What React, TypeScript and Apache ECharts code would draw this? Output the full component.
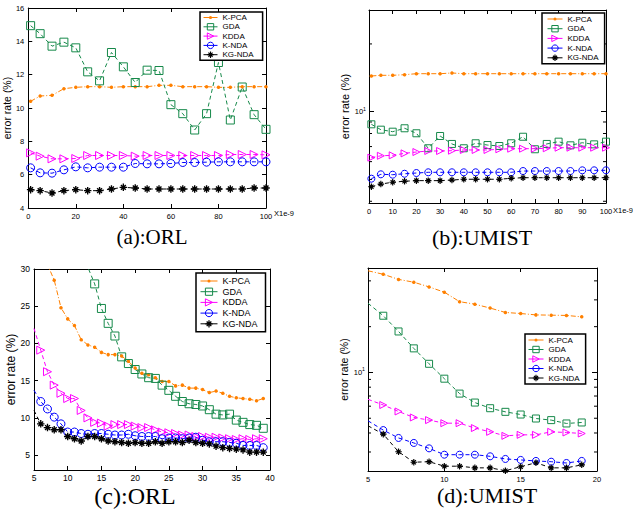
import React, { useEffect, useRef } from 'react';
import * as echarts from 'echarts';

const METHODS = ['K-PCA', 'GDA', 'KDDA', 'K-NDA', 'KG-NDA'];

// (a) ORL, error rate vs regularisation (x1e-9)
const xA = [1, 5, 10, 15, 20, 25, 30, 35, 40, 45, 50, 55, 60, 65, 70, 75, 80, 85, 90, 95, 100];
const aKPCA = [10.40, 10.72, 10.76, 11.16, 11.24, 11.28, 11.28, 11.24, 11.28, 11.28, 11.28, 11.36, 11.36, 11.28, 11.28, 11.28, 11.24, 11.24, 11.28, 11.28, 11.28];
const aGDA = [14.94, 14.46, 13.71, 13.95, 13.61, 12.17, 11.63, 13.33, 12.47, 11.53, 12.27, 12.25, 10.20, 9.66, 8.68, 9.66, 12.73, 9.28, 11.26, 9.60, 8.72];
const aKDDA = [7.31, 7.11, 6.95, 6.95, 6.97, 7.15, 7.15, 7.15, 7.15, 7.11, 7.15, 7.15, 7.15, 7.15, 7.15, 7.15, 7.15, 7.21, 7.21, 7.21, 7.19];
const aKNDA = [6.41, 6.11, 6.09, 6.29, 6.47, 6.41, 6.45, 6.45, 6.45, 6.67, 6.65, 6.65, 6.67, 6.73, 6.73, 6.75, 6.77, 6.77, 6.77, 6.77, 6.77];
const aKGNDA = [5.10, 5.04, 4.90, 5.04, 5.10, 5.04, 5.04, 5.14, 5.24, 5.20, 5.14, 5.14, 5.14, 5.14, 5.14, 5.14, 5.14, 5.14, 5.14, 5.20, 5.20];

// (b) UMIST, error rate vs regularisation (x1e-9), log scale
const xB = [1, 5, 10, 15, 20, 25, 30, 35, 40, 45, 50, 55, 60, 65, 70, 75, 80, 85, 90, 95, 100];
const bKPCA = [14.41, 14.51, 14.51, 14.60, 14.75, 14.75, 14.75, 14.86, 14.75, 14.75, 14.75, 14.75, 14.75, 14.75, 14.75, 14.75, 14.75, 14.75, 14.75, 14.75, 14.75];
const bGDA = [8.79, 8.32, 8.15, 8.44, 8.02, 6.88, 7.80, 7.19, 6.88, 7.24, 7.11, 7.04, 7.24, 7.74, 6.81, 7.19, 7.36, 7.09, 7.28, 7.16, 7.36];
const bKDDA = [6.25, 6.37, 6.40, 6.53, 6.62, 6.69, 6.69, 6.71, 6.76, 6.76, 6.76, 6.81, 6.85, 6.85, 6.85, 6.88, 6.92, 6.92, 6.92, 6.92, 6.92];
const bKNDA = [5.04, 5.27, 5.25, 5.30, 5.34, 5.38, 5.38, 5.38, 5.38, 5.38, 5.38, 5.38, 5.38, 5.45, 5.45, 5.45, 5.45, 5.45, 5.49, 5.49, 5.49];
const bKGNDA = [4.64, 4.77, 4.86, 4.91, 4.94, 4.94, 4.94, 4.97, 5.01, 5.01, 5.01, 5.01, 5.06, 5.09, 5.09, 5.09, 5.09, 5.09, 5.09, 5.09, 5.09];

// (c) ORL, error rate vs dimension
const xC = [5, 6, 7, 8, 9, 10, 11, 12, 13, 14, 15, 16, 17, 18, 19, 20, 21, 22, 23, 24, 25, 26, 27, 28, 29, 30, 31, 32, 33, 34, 35, 36, 37, 38, 39];
const cKPCA = [36, 33, 30.6, 28.5, 24.8, 23.3, 22.4, 20.5, 19.8, 19.5, 18.8, 18.5, 18.5, 18.3, 17.6, 16.7, 16.0, 15.8, 15.4, 14.9, 14.9, 14.3, 14.4, 14.0, 14.0, 13.8, 13.4, 13.6, 13.3, 12.9, 12.7, 12.6, 12.5, 12.3, 12.6];
const cGDA = [62, 56, 51, 47, 43, 39, 36, 33, 30.2, 28.0, 24.7, 22.7, 21.0, 18.2, 17.3, 16.5, 15.9, 15.4, 15.3, 14.4, 13.7, 12.9, 12.2, 11.9, 11.8, 11.6, 11.1, 10.5, 10.4, 10.5, 9.7, 9.4, 9.1, 9.0, 8.6];
const cKDDA = [22.0, 19.1, 16.2, 14.4, 13.3, 12.6, 12.6, 11.0, 10.0, 9.4, 9.3, 8.9, 9.1, 9.1, 9.1, 8.9, 8.7, 8.7, 8.4, 8.1, 8.0, 7.9, 7.7, 7.7, 7.5, 7.5, 7.4, 7.4, 7.3, 7.2, 7.1, 7.2, 7.1, 7.2, 7.2];
const cKNDA = [13.7, 12.2, 11.2, 10.1, 9.2, 8.1, 8.1, 7.9, 7.8, 7.9, 7.9, 7.8, 7.7, 7.7, 7.8, 7.6, 7.5, 7.5, 7.5, 7.2, 7.3, 7.3, 7.2, 7.3, 7.4, 7.0, 6.8, 6.8, 6.8, 6.7, 6.6, 6.3, 6.3, 6.3, 6.0];
const cKGNDA = [11.0, 9.2, 8.7, 8.4, 8.4, 7.5, 7.2, 6.9, 7.5, 7.5, 7.2, 6.9, 6.8, 6.7, 6.6, 6.7, 6.6, 6.6, 6.8, 6.6, 6.8, 6.8, 6.7, 7.0, 6.7, 6.6, 6.5, 6.2, 6.0, 5.9, 5.8, 5.7, 5.4, 5.4, 5.4];

// (d) UMIST, error rate vs dimension, log scale
const xD = [5, 6, 7, 8, 9, 10, 11, 12, 13, 14, 15, 16, 17, 18, 19];
const dKPCA = [46.6, 44.2, 40.9, 39.2, 36.5, 33.7, 29.2, 28.1, 26.5, 24.8, 24.4, 23.9, 23.8, 23.7, 23.2];
const dGDA = [28.5, 23.6, 18.6, 14.4, 11.4, 9.1, 7.26, 6.34, 5.82, 5.51, 5.29, 4.98, 4.86, 4.62, 4.69];
const dKDDA = [6.66, 6.11, 5.54, 5.06, 4.86, 4.64, 4.64, 4.31, 4.07, 3.83, 3.89, 3.89, 4.07, 4.03, 3.97];
const dKNDA = [4.81, 4.18, 3.71, 3.44, 3.17, 2.88, 2.88, 2.88, 2.81, 2.70, 2.66, 2.62, 2.59, 2.54, 2.62];
const dKGNDA = [4.46, 3.93, 3.01, 2.57, 2.59, 2.42, 2.42, 2.36, 2.36, 2.26, 2.40, 2.55, 2.36, 2.36, 2.47];

// minor tick values of the log axes
const bMinorTicks = [4, 5, 6, 7, 8, 9, 20];
const dMinorTicks = [3, 4, 5, 6, 7, 8, 9, 20, 30, 40];

const TITLES = ['(a):ORL', '(b):UMIST', '(c):ORL', '(d):UMIST'];
const Y_NAME = 'error rate (%)';
const X_UNIT = 'X1e-9';

const SANS = '"Liberation Sans", Arial, Helvetica, sans-serif';
const SERIF = '"Liberation Serif", "Times New Roman", serif';

const TRI = 'path://M0,0L10,5L0,10Z';
const STAR = 'path://M4.1,0L5.9,0L5.9,10L4.1,10Z M0,4.1L10,4.1L10,5.9L0,5.9Z M1.1,2.4L2.4,1.1L8.9,7.6L7.6,8.9Z M7.6,1.1L8.9,2.4L2.4,8.9L1.1,7.6Z';

// legend icon for K-PCA: a line through a small dot, drawn in a w x h box
function dotLineIcon(w: number, h: number) {
  const c = h / 2;
  const r = 1.6;
  return `path://M0,0L0,0 M${w},${h}L${w},${h} M0,${c - 0.5}L${w},${c - 0.5}L${w},${c + 0.5}L0,${c + 0.5}Z ` +
    `M${w / 2 - r},${c}A${r},${r},0,1,1,${w / 2 + r},${c}A${r},${r},0,1,1,${w / 2 - r},${c}Z`;
}

const STYLE: Record<string, any> = {
  'K-PCA': { color: '#ff8000', dash: [5, 2, 1, 2], symbol: 'circle', filled: true },
  GDA: { color: '#16894a', dash: [4, 3], symbol: 'rect', filled: false },
  KDDA: { color: '#ff00ff', dash: [4, 3], symbol: TRI, filled: false },
  'K-NDA': { color: '#0000ff', dash: [4, 3], symbol: 'circle', filled: false },
  'KG-NDA': { color: '#000000', dash: [4, 3], symbol: STAR, filled: true },
};

function itemStyleOf(name: string) {
  const st = STYLE[name];
  return st.filled
    ? { color: st.color, borderWidth: 0 }
    : { color: 'rgba(255,255,255,0)', borderColor: st.color, borderWidth: 1 };
}

function lineSeries(name: string, xs: number[], ys: number[], g: number, size: number, hideFirst: boolean) {
  const st = STYLE[name];
  const symSize = name === 'K-PCA' ? 3.5 : name === 'KG-NDA' ? size - 0.5 : size;
  return {
    type: 'line',
    name,
    xAxisIndex: 2 * g,
    yAxisIndex: 2 * g,
    data: xs.map((x, i) => (hideFirst && i === 0 ? { value: [x, ys[i]], symbol: 'none' } : [x, ys[i]])),
    symbol: st.symbol,
    symbolSize: symSize,
    showSymbol: true,
    lineStyle: { color: st.color, width: 1, type: st.dash },
    itemStyle: itemStyleOf(name),
    clip: true,
    silent: true,
    emphasis: { disabled: true },
  };
}

function minorTickSeries(g: number, xMin: number, xMax: number, values: number[]) {
  return {
    type: 'custom',
    xAxisIndex: 2 * g,
    yAxisIndex: 2 * g,
    silent: true,
    clip: false,
    data: values.map((v) => [xMin, v]),
    renderItem: (params: any, api: any) => {
      const v = api.value(1);
      const l = api.coord([xMin, v]);
      const r = api.coord([xMax, v]);
      return {
        type: 'group',
        children: [
          { type: 'line', shape: { x1: l[0], y1: l[1], x2: l[0] + 3, y2: l[1] }, style: { stroke: '#000', lineWidth: 1 } },
          { type: 'line', shape: { x1: r[0] - 3, y1: r[1], x2: r[0], y2: r[1] }, style: { stroke: '#000', lineWidth: 1 } },
        ],
      };
    },
  };
}

const axLine = { show: true, onZero: false, lineStyle: { color: '#000', width: 1 } };

function xAxes(g: number, min: number, max: number, interval: number, fontSize: number, margin: number) {
  return [
    {
      type: 'value', gridIndex: g, position: 'bottom', min, max, interval,
      axisLine: axLine, splitLine: { show: false },
      axisTick: { show: true, inside: true, length: 4, lineStyle: { color: '#000' } },
      axisLabel: { show: true, color: '#000', fontSize, fontFamily: SANS, margin },
    },
    {
      type: 'value', gridIndex: g, position: 'top', min, max, interval,
      axisLine: axLine, splitLine: { show: false },
      axisTick: { show: true, inside: true, length: 4, lineStyle: { color: '#000' } },
      axisLabel: { show: false },
    },
  ];
}

function yLinAxes(g: number, min: number, max: number, fontSize: number, nameSize: number, nameGap: number, interval?: number, step?: number) {
  const base: any = {
    type: 'value', gridIndex: g, min, max,
    axisLine: axLine, splitLine: { show: false },
    axisTick: { show: true, inside: true, length: 4, lineStyle: { color: '#000' } },
  };
  if (interval) base.interval = interval;
  return [
    {
      ...base, position: 'left',
      name: Y_NAME, nameLocation: 'middle', nameGap,
      nameTextStyle: { fontSize: nameSize, fontFamily: SANS, color: '#000' },
      axisLabel: {
        show: true, color: '#000', fontSize, fontFamily: SANS, margin: 4,
        formatter: (v: number) => (step && Math.abs(v / step - Math.round(v / step)) > 1e-6 ? '' : String(v)),
      },
    },
    { ...base, position: 'right', axisLabel: { show: false } },
  ];
}

function yLogAxes(g: number, min: number, max: number, fontSize: number, nameSize: number, nameGap: number) {
  const base: any = {
    type: 'log', logBase: 10, gridIndex: g, min, max,
    axisLine: axLine, splitLine: { show: false },
    axisTick: { show: true, inside: true, length: 5, lineStyle: { color: '#000' } },
  };
  return [
    {
      ...base, position: 'left',
      name: Y_NAME, nameLocation: 'middle', nameGap,
      nameTextStyle: { fontSize: nameSize, fontFamily: SANS, color: '#000' },
      axisLabel: {
        show: true, margin: 3,
        formatter: (v: number) => (Math.abs(Math.log10(v) - 1) < 1e-6 ? '{b|10}{s|1}' : ''),
        rich: {
          b: { fontSize, fontFamily: SANS, color: '#000' },
          s: { fontSize: fontSize * 0.7, fontFamily: SANS, color: '#000', verticalAlign: 'top', padding: [0, 0, 6, 0] },
        },
      },
    },
    { ...base, position: 'right', axisLabel: { show: false } },
  ];
}

function legendBox(left: number, top: number, padding: number[], itemGap: number, itemWidth: number, itemHeight: number, fontSize: number) {
  return {
    data: METHODS.map((m) => ({
      name: m,
      icon: m === 'K-PCA' ? dotLineIcon(itemWidth, itemHeight) : undefined,
      itemStyle: itemStyleOf(m),
      lineStyle: { color: STYLE[m].color, width: 1, type: 'solid' },
    })),
    orient: 'vertical',
    left, top, padding, itemGap, itemWidth, itemHeight,
    borderColor: '#000', borderWidth: 1.5, backgroundColor: '#fff',
    selectedMode: false,
    textStyle: { fontSize, fontFamily: SANS, color: '#000' },
  };
}

function titleText(text: string, x: number, y: number, size: number) {
  return {
    type: 'text', x, y, silent: true,
    style: { text, fontSize: size, fontFamily: SERIF, fill: '#000', textAlign: 'center', textVerticalAlign: 'middle' },
  };
}

export default function App() {
  const ref = useRef<HTMLDivElement>(null);
  useEffect(() => {
    if (!ref.current) return;
    const chart = echarts.init(ref.current, undefined, { renderer: 'svg' });
    const series: any[] = [];
    const panels: [number[], number[][], number, boolean][] = [
      [xA, [aKPCA, aGDA, aKDDA, aKNDA, aKGNDA], 8, false],
      [xB, [bKPCA, bGDA, bKDDA, bKNDA, bKGNDA], 7, false],
      [xC, [cKPCA, cGDA, cKDDA, cKNDA, cKGNDA], 8, true],
      [xD, [dKPCA, dGDA, dKDDA, dKNDA, dKGNDA], 7, true],
    ];
    panels.forEach(([xs, ys, size, hideFirst], g) => {
      METHODS.forEach((m, i) => series.push(lineSeries(m, xs, ys[i], g, size, hideFirst)));
    });
    series.push(minorTickSeries(1, 0, 100, bMinorTicks));
    series.push(minorTickSeries(3, 5, 20, dMinorTicks));

    const option: any = {
      animation: false,
      backgroundColor: '#fff',
      grid: [
        { left: 27, top: 8, width: 239, height: 200 },
        { left: 369, top: 10, width: 237, height: 193 },
        { left: 34, top: 269, width: 236, height: 201 },
        { left: 368, top: 268, width: 229, height: 203 },
      ],
      xAxis: [
        ...xAxes(0, 0, 100, 20, 7.5, 4),
        ...xAxes(1, 0, 100, 10, 7.5, 4),
        ...xAxes(2, 5, 40, 5, 8.5, 3),
        ...xAxes(3, 5, 20, 5, 7.5, 4),
      ],
      yAxis: [
        ...yLinAxes(0, 4, 16, 7.5, 10.5, 11, 2),
        ...yLogAxes(1, 3.93, 28.3, 7.5, 11, 16),
        ...yLinAxes(2, 3, 30, 8.5, 12, 14, undefined, 5),
        ...yLogAxes(3, 2.25, 48.6, 7.5, 10.5, 19),
      ],
      legend: [
        legendBox(200, 12, [1.5, 9, 1.5, 3], 1.3, 14, 8, 8),
        legendBox(542, 13, [2, 6, 2, 5], 1.7, 15, 8, 8),
        legendBox(196, 273, [3.5, 8, 3.5, 4], 1.7, 17, 9, 9),
        legendBox(525, 334, [2, 6, 2, 3], 1.5, 15, 8, 8),
      ],
      graphic: [
        titleText(TITLES[0], 152, 237, 21),
        titleText(TITLES[1], 482, 237, 22),
        titleText(TITLES[2], 135, 496, 24),
        titleText(TITLES[3], 487, 495, 22),
        { type: 'text', x: 274, y: 213, silent: true, style: { text: X_UNIT, fontSize: 7.5, fontFamily: SANS, fill: '#000', textVerticalAlign: 'middle' } },
        { type: 'text', x: 613, y: 210, silent: true, style: { text: X_UNIT, fontSize: 7.5, fontFamily: SANS, fill: '#000', textVerticalAlign: 'middle' } },
      ],
      series,
    };
    chart.setOption(option);
    return () => chart.dispose();
  }, []);
  return <div ref={ref} style={{ position: 'fixed', left: 0, top: 0, width: 633, height: 509, background: '#fff' }} />;
}
